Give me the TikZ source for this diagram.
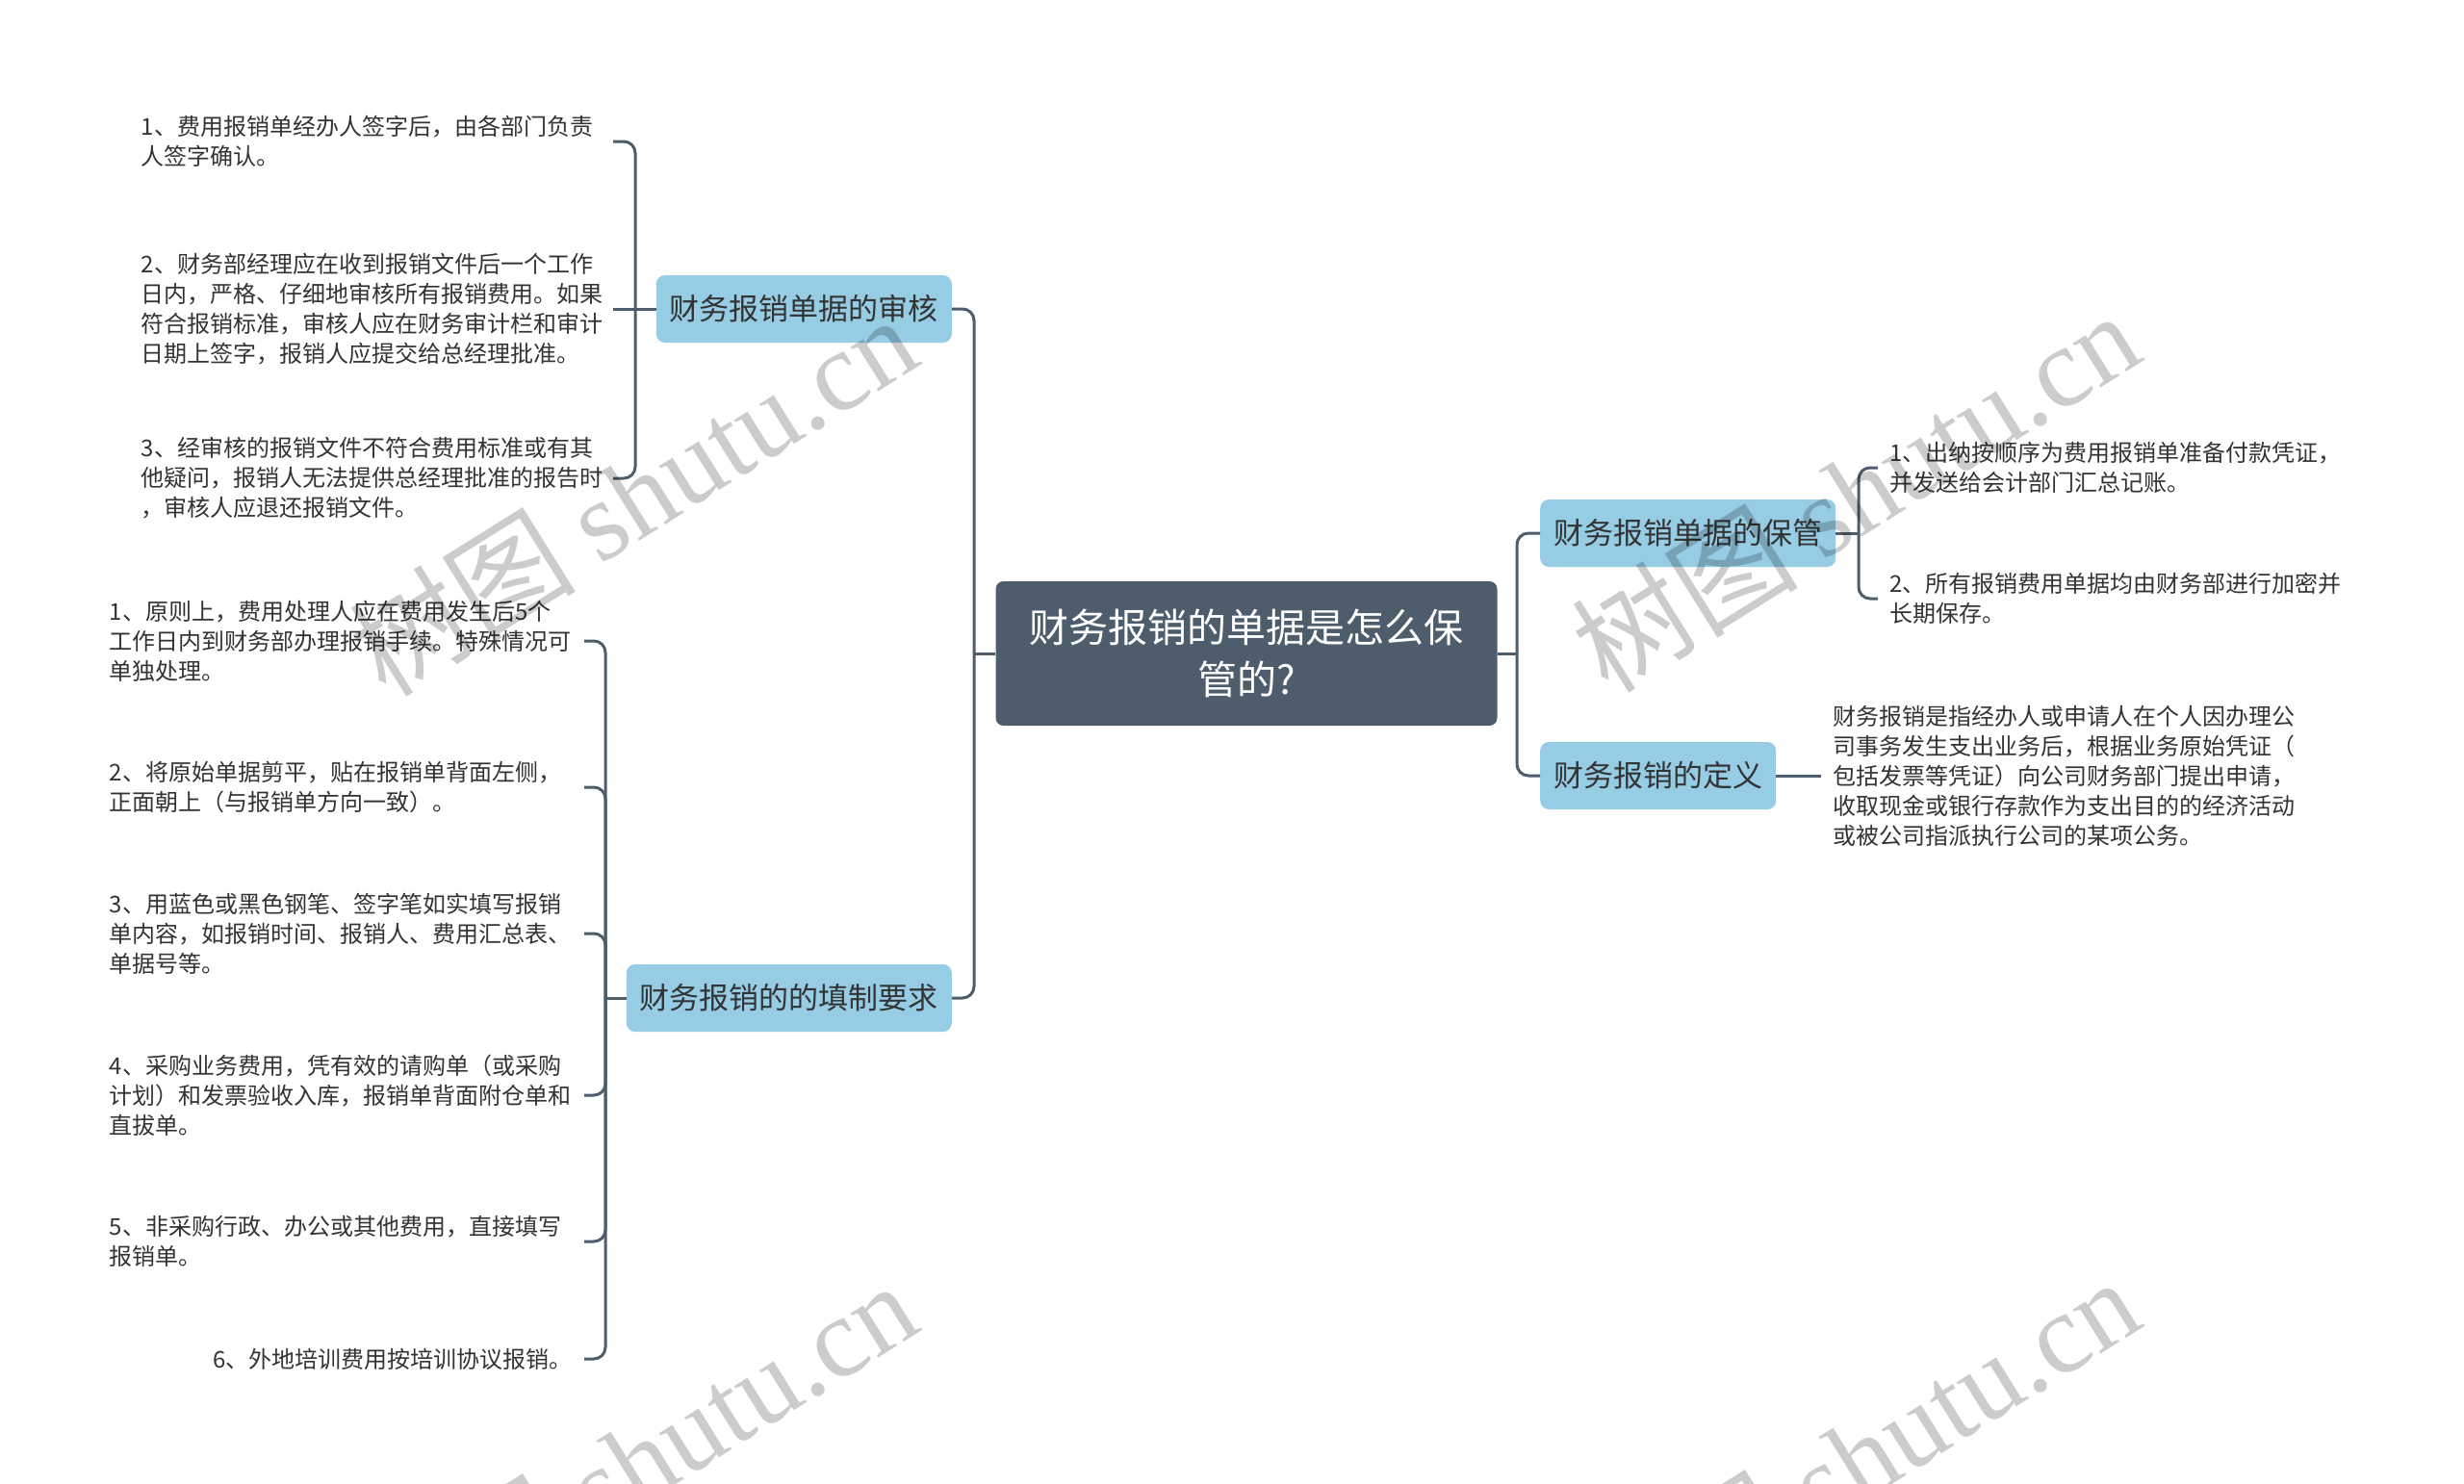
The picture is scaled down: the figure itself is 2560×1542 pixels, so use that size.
\documentclass[tikz,border=0pt]{standalone}
\usepackage{fontspec}
\setmainfont{Noto Sans CJK SC}
\newfontfamily\wmlatin{Liberation Serif}
\definecolor{linec}{HTML}{4E5D6C}
\definecolor{rootc}{HTML}{4E5D6C}
\definecolor{branchc}{HTML}{96CCE4}
\definecolor{textc}{HTML}{333333}
\begin{document}
\begin{tikzpicture}[x=1pt,y=-1pt,
  conn/.style={draw=linec, line width=3pt, rounded corners=12pt},
  rootbox/.style={fill=rootc, rounded corners=8pt, text=white, align=center,
    font=\fontsize{41}{54}\selectfont, minimum width=521pt, minimum height=150pt},
  branch/.style={fill=branchc, rounded corners=9pt, text=textc,
    font=\fontsize{31}{37}\selectfont, inner xsep=14pt, minimum height=70pt},
  leaf/.style={text=textc, font=\fontsize{24}{31}\selectfont, align=left,
    inner xsep=12pt, inner ysep=4pt},
  wm/.style={text=black, text opacity=0.2, font=\fontsize{118}{130}\selectfont, rotate=32}]
\useasboundingbox (0,0) rectangle (2560,1542);
\fill[white] (0,0) rectangle (2560,1542);

% root and branches
\node[rootbox] (root) at (1295,679) {财务报销的单据是怎么保\\管的?};
\node[branch, anchor=east] (b1) at (989,321) {财务报销单据的审核};
\node[branch, anchor=east] (b2) at (989,1037) {财务报销的的填制要求};
\node[branch, anchor=west] (b3) at (1600,554) {财务报销单据的保管};
\node[branch, anchor=west] (b4) at (1600,806) {财务报销的定义};

% junctions
\coordinate (jl) at (1012,679);
\coordinate (jr) at (1576,679);
\coordinate (j1) at (660,321);
\coordinate (j2) at (629,1037);
\coordinate (j3) at (1931,554);

% leaves of b1
\node[leaf, text width=478pt, anchor=east] (a1) at (637,147) {1、费用报销单经办人签字后，由各部门负责\\人签字确认。};
\node[leaf, text width=478pt, anchor=east] (a2) at (637,321) {2、财务部经理应在收到报销文件后一个工作\\日内，严格、仔细地审核所有报销费用。如果\\符合报销标准，审核人应在财务审计栏和审计\\日期上签字，报销人应提交给总经理批准。};
\node[leaf, text width=478pt, anchor=east] (a3) at (637,497) {3、经审核的报销文件不符合费用标准或有其\\他疑问，报销人无法提供总经理批准的报告时\\，审核人应退还报销文件。};

% leaves of b2
\node[leaf, text width=481pt, anchor=east] (c1) at (607,666) {1、原则上，费用处理人应在费用发生后5个\\工作日内到财务部办理报销手续。特殊情况可\\单独处理。};
\node[leaf, text width=481pt, anchor=east] (c2) at (607,818) {2、将原始单据剪平，贴在报销单背面左侧，\\正面朝上（与报销单方向一致）。};
\node[leaf, text width=481pt, anchor=east] (c3) at (607,970) {3、用蓝色或黑色钢笔、签字笔如实填写报销\\单内容，如报销时间、报销人、费用汇总表、\\单据号等。};
\node[leaf, text width=481pt, anchor=east] (c4) at (607,1138) {4、采购业务费用，凭有效的请购单（或采购\\计划）和发票验收入库，报销单背面附仓单和\\直拔单。};
\node[leaf, text width=481pt, anchor=east] (c5) at (607,1290) {5、非采购行政、办公或其他费用，直接填写\\报销单。};
\node[leaf, anchor=east] (c6) at (607,1412) {6、外地培训费用按培训协议报销。};

% leaves of b3, b4
\node[leaf, anchor=west] (p1) at (1951,486) {1、出纳按顺序为费用报销单准备付款凭证，\\并发送给会计部门汇总记账。};
\node[leaf, anchor=west] (p2) at (1951,622) {2、所有报销费用单据均由财务部进行加密并\\长期保存。};
\node[leaf, anchor=west] (d1) at (1892,806) {财务报销是指经办人或申请人在个人因办理公\\司事务发生支出业务后，根据业务原始凭证（\\包括发票等凭证）向公司财务部门提出申请，\\收取现金或银行存款作为支出目的的经济活动\\或被公司指派执行公司的某项公务。};

% connectors
\draw[conn] (root.west) -- (jl);
\draw[conn] (jl) |- (b1.east);
\draw[conn] (jl) |- (b2.east);
\draw[conn] (root.east) -- (jr);
\draw[conn] (jr) |- (b3.west);
\draw[conn] (jr) |- (b4.west);

\draw[conn] (b1.west) -- (j1);
\draw[conn] (j1) |- (a1.east);
\draw[conn] (j1) -- (a2.east);
\draw[conn] (j1) |- (a3.east);

\draw[conn] (b2.west) -- (j2);
\draw[conn] (j2) |- (c1.east);
\draw[conn] (j2) |- (c2.east);
\draw[conn] (j2) |- (c3.east);
\draw[conn] (j2) |- (c4.east);
\draw[conn] (j2) |- (c5.east);
\draw[conn] (j2) |- (c6.east);

\draw[conn] (b3.east) -- (j3);
\draw[conn] (j3) |- (p1.west);
\draw[conn] (j3) |- (p2.west);

\draw[conn] (b4.east) -- (d1.west);

% watermarks
\node[wm] (w1) at (657,514) {树图 {\wmlatin shutu.cn}};
\node[wm] (w2) at (1927,510) {树图 {\wmlatin shutu.cn}};
\node[wm] (w3) at (657,1518) {树图 {\wmlatin shutu.cn}};
\node[wm] (w4) at (1927,1514) {树图 {\wmlatin shutu.cn}};
\end{tikzpicture}
\end{document}
